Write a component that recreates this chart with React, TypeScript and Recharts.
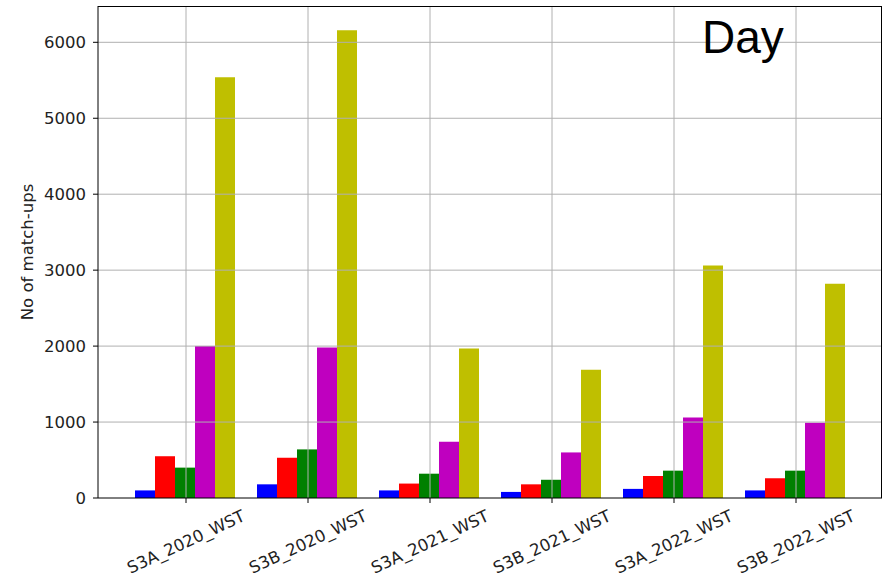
import React from "react"
import { BarChart, Bar, XAxis, YAxis, ReferenceLine } from "recharts"

const categories = ["S3A_2020_WST", "S3B_2020_WST", "S3A_2021_WST", "S3B_2021_WST", "S3A_2022_WST", "S3B_2022_WST"]
const blueValues = [100, 180, 100, 80, 120, 100]
const redValues = [550, 530, 190, 180, 290, 260]
const greenValues = [400, 640, 320, 240, 360, 360]
const magentaValues = [2000, 1980, 740, 600, 1060, 990]
const yellowValues = [5540, 6160, 1970, 1690, 3060, 2820]
const yTicks = [0, 1000, 2000, 3000, 4000, 5000, 6000]

const series = [
  { key: "blue", values: blueValues, color: "#0000ff" },
  { key: "red", values: redValues, color: "#ff0000" },
  { key: "green", values: greenValues, color: "#008000" },
  { key: "magenta", values: magentaValues, color: "#bf00bf" },
  { key: "yellow", values: yellowValues, color: "#bfbf00" },
]

const data = categories.map((name, i) => {
  const row: Record<string, string | number> = { name }
  series.forEach((s) => (row[s.key] = s.values[i]))
  return row
})

const font = "'DejaVu Sans', sans-serif"
const gridColor = "#b0b0b0"

function XTick({ x, y, payload }: any) {
  return (
    <g transform={`translate(${x},${y})`}>
      <text
        x={0}
        y={0}
        transform="translate(0,37) rotate(-25)"
        textAnchor="middle"
        dominantBaseline="central"
        fontFamily={font}
        fontSize={16.5}
        fill="#222"
      >
        {payload.value}
      </text>
    </g>
  )
}

export default function App() {
  return (
    <div style={{ position: "absolute", left: 0, top: 0, width: 887, height: 583, background: "#fff" }}>
      <BarChart
        width={887}
        height={583}
        data={data}
        margin={{ top: 6, right: 5, bottom: 0, left: 0 }}
        barGap={0}
        barCategoryGap={10}
      >
        <XAxis
          dataKey="name"
          height={85}
          padding={{ left: 27, right: 25 }}
          tickSize={5}
          tickLine={{ stroke: "#000" }}
          axisLine={{ stroke: "#000" }}
          tick={<XTick />}
          interval={0}
        />
        <YAxis
          width={98}
          domain={[0, 6478]}
          ticks={yTicks}
          allowDataOverflow
          tickSize={5}
          tickMargin={7}
          tickLine={{ stroke: "#000" }}
          axisLine={{ stroke: "#000" }}
          tick={{ fontFamily: font, fontSize: 16.5, fill: "#222" }}
          label={{
            value: "No of match-ups",
            angle: -90,
            position: "insideLeft",
            offset: 27,
            style: { textAnchor: "middle", fontFamily: font, fontSize: 16.5, fill: "#222" },
          }}
        />
        {series.map((s) => (
          <Bar key={s.key} dataKey={s.key} fill={s.color} isAnimationActive={false} />
        ))}
        {/* grid drawn over the bars, like matplotlib here */}
        {yTicks.slice(1).map((t) => (
          <ReferenceLine key={"h" + t} y={t} stroke={gridColor} strokeWidth={1} />
        ))}
        {categories.map((c) => (
          <ReferenceLine key={"v" + c} x={c} stroke={gridColor} strokeWidth={1} />
        ))}
      </BarChart>
      {/* top and right spines of the axes box */}
      <div
        style={{
          position: "absolute",
          left: 98,
          top: 5.5,
          width: 784,
          height: 492,
          boxSizing: "border-box",
          borderTop: "1px solid #000",
          borderRight: "1px solid #000",
          pointerEvents: "none",
        }}
      />
      <div
        style={{
          position: "absolute",
          left: 702,
          top: 14,
          fontFamily: "'Liberation Sans', Arial, sans-serif",
          fontSize: 46,
          lineHeight: "46px",
          color: "#000",
        }}
      >
        Day
      </div>
    </div>
  )
}
